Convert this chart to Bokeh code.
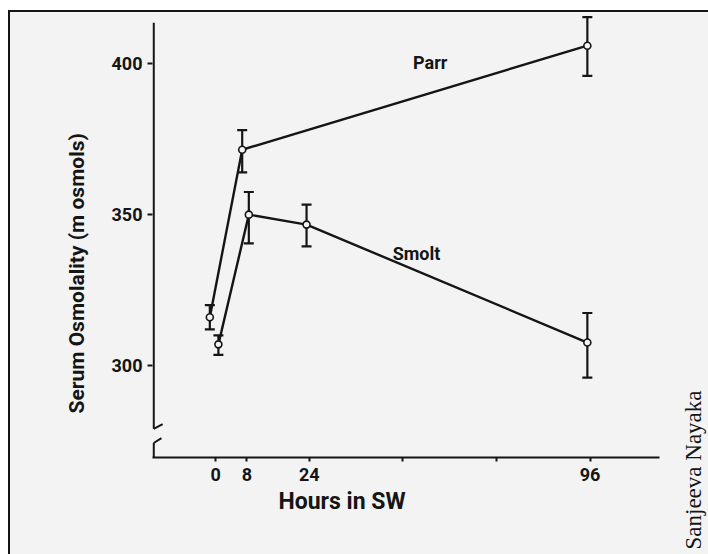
from bokeh.plotting import figure
from bokeh.layouts import row
from bokeh.models import Range1d, FixedTicker, Whisker, ColumnDataSource, TeeHead, Title
from bokeh.core.properties import value
from bokeh.embed import file_html
from bokeh.resources import INLINE

# ---- data ----
parr_hours = [-1.5, 6.8, 95.3]
parr_osm = [316.0, 371.5, 406.0]
parr_low = [312.0, 364.0, 396.0]
parr_high = [320.0, 378.0, 415.5]

smolt_hours = [0.7, 8.5, 23.3, 95.3]
smolt_osm = [307.0, 350.0, 346.7, 307.6]
smolt_low = [303.5, 340.5, 339.5, 296.0]
smolt_high = [310.0, 357.5, 353.3, 317.4]

x_ticks = [0, 8, 24, 48, 72, 96]
x_tick_labels = {0: "0", 8: "8", 24: "24", 48: "", 72: "", 96: "96"}
y_ticks = [300, 350, 400]

series_labels = ["Parr", "Smolt"]
label_x = [55.0, 51.5]
label_y = [400.5, 337.0]

x_title = "Hours in SW"
y_title = "Serum Osmolality (m osmols)"
credit = "Sanjeeva Nayaka"

INK = "#151515"
BG = "#f3f3f3"
FONT = "Roboto"

p = figure(width=668, height=542, output_backend="svg", toolbar_location=None,
           x_range=Range1d(-16.2, 113.8), y_range=Range1d(269.5, 417.0),
           min_border_left=142, min_border_right=19, min_border_top=0, min_border_bottom=97,
           background_fill_color=BG, border_fill_color=BG)
p.grid.visible = False
p.outline_line_color = None

# x axis
xa = p.xaxis[0]
xa.ticker = FixedTicker(ticks=x_ticks)
xa.major_label_overrides = x_tick_labels
xa.axis_line_color = INK
xa.axis_line_width = 2.2
xa.major_tick_line_color = INK
xa.major_tick_line_width = 2
xa.major_tick_in = 0
xa.major_tick_out = 4
xa.minor_tick_line_color = None
xa.major_label_standoff = 6
xa.major_label_text_font = FONT
xa.major_label_text_font_style = "bold"
xa.major_label_text_font_size = "18px"
xa.major_label_text_color = INK

# y axis
ya = p.yaxis[0]
ya.ticker = FixedTicker(ticks=y_ticks)
ya.axis_line_color = None
ya.major_tick_line_color = INK
ya.major_tick_line_width = 2
ya.major_tick_in = 0
ya.major_tick_out = 5
ya.minor_tick_line_color = None
ya.major_label_standoff = 5
ya.major_label_text_font = FONT
ya.major_label_text_font_style = "bold"
ya.major_label_text_font_size = "18px"
ya.major_label_text_color = INK

# axis titles (placed off-centre as in the original)
p.add_layout(Title(text=x_title, align="left", offset=126, standoff=5,
                   text_font=FONT, text_font_style="bold", text_font_size="23px",
                   text_color=INK), "below")
p.add_layout(Title(text=y_title, align="left", offset=44, standoff=40,
                   text_font=FONT, text_font_style="bold", text_font_size="21px",
                   text_color=INK), "left")

# broken y-axis line drawn through the data scale
ax_x = -15.9
p.segment(x0=[ax_x, ax_x], y0=[413.6, 274.3], x1=[ax_x, ax_x], y1=[279.0, 269.5],
          line_color=INK, line_width=2.2)
p.segment(x0=[ax_x, ax_x], y0=[279.0, 274.3], x1=[ax_x + 2.3, ax_x + 2.0], y1=[280.6, 275.9],
          line_color=INK, line_width=2)

# series
for xs, ys, lo, hi in [(parr_hours, parr_osm, parr_low, parr_high),
                       (smolt_hours, smolt_osm, smolt_low, smolt_high)]:
    src = ColumnDataSource(dict(x=xs, y=ys, lo=lo, hi=hi))
    p.add_layout(Whisker(source=src, base="x", lower="lo", upper="hi", dimension="height",
                         line_color=INK, line_width=2.2,
                         upper_head=TeeHead(size=10, line_color=INK, line_width=2.2),
                         lower_head=TeeHead(size=10, line_color=INK, line_width=2.2)))
    p.line(xs, ys, line_color=INK, line_width=2.4)
    p.scatter(xs, ys, marker="circle", size=7, line_color=INK, line_width=1.6, fill_color=BG)

p.text(x=label_x, y=label_y, text=series_labels, text_font=value(FONT), text_font_style="bold",
       text_font_size="18px", text_align="center", text_baseline="middle", text_color=INK)

# narrow strip at the right holding the vertical credit text
c = figure(width=30, height=542, output_backend="svg", toolbar_location=None,
           x_axis_type=None, y_axis_type=None, min_border=0,
           background_fill_color=BG, border_fill_color=BG)
c.grid.visible = False
c.outline_line_color = None
c.add_layout(Title(text=credit, align="left", offset=-92, standoff=0,
                   text_font="Liberation Serif", text_font_style="normal",
                   text_font_size="23px", text_color=INK), "left")

layout = row(p, c, spacing=0)
layout.styles = {"margin-left": "8px", "margin-top": "10px", "background-color": BG,
                 "border-left": "2px solid #151515", "border-top": "2px solid #151515"}

open("out.html", "w").write(file_html(layout, INLINE))
